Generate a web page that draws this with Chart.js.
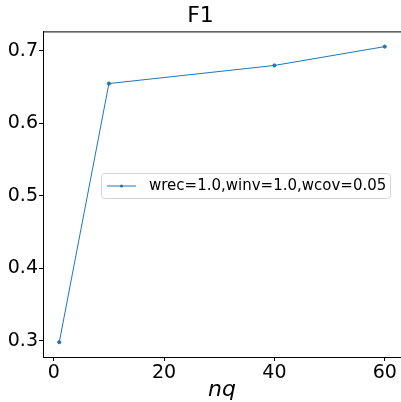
<!DOCTYPE html>
<html>
<head>
<meta charset="utf-8">
<script src="https://cdn.jsdelivr.net/npm/chart.js@4/dist/chart.umd.min.js"></script>
<style>
  html, body { margin: 0; padding: 0; background: #fff; }
  #wrap { width: 401px; height: 402px; }
</style>
</head>
<body>
<div id="wrap"><canvas id="f1Chart"></canvas></div>
<script>
// data
const nqValues = [1, 10, 40, 60];
const f1Values = [0.298, 0.655, 0.680, 0.706];
const seriesLabel = "wrec=1.0,winv=1.0,wcov=0.05";
const xTickValues = [0, 20, 40, 60];
const yTickValues = [0.3, 0.4, 0.5, 0.6, 0.7];

const FONT = "'DejaVu Sans', sans-serif";
const BLUE = "#1f77b4";

// top spine (right one falls off the canvas in the reference)
const framePlugin = {
  id: "frame",
  afterDraw(chart) {
    const { ctx, chartArea: a } = chart;
    ctx.save();
    ctx.strokeStyle = "#000";
    ctx.lineWidth = 1;
    ctx.beginPath();
    ctx.moveTo(a.left, a.top + 0.5);
    ctx.lineTo(a.right, a.top + 0.5);
    ctx.stroke();
    ctx.restore();
  },
};

// matplotlib-like legend box inside the axes
const boxLegend = {
  id: "boxLegend",
  afterDatasetsDraw(chart) {
    const { ctx } = chart;
    const x = 101, y = 173, w = 289, h = 25;
    ctx.save();
    ctx.fillStyle = "rgba(255,255,255,0.8)";
    ctx.strokeStyle = "#d5d5d5";
    ctx.lineWidth = 1;
    ctx.beginPath();
    ctx.roundRect(x + 0.5, y + 0.5, w, h, 3);
    ctx.fill();
    ctx.stroke();
    const cy = y + h / 2 + 0.5;
    ctx.strokeStyle = BLUE;
    ctx.beginPath();
    ctx.moveTo(107, cy);
    ctx.lineTo(136, cy);
    ctx.stroke();
    ctx.fillStyle = BLUE;
    ctx.beginPath();
    ctx.arc(121.5, cy, 1.6, 0, Math.PI * 2);
    ctx.fill();
    ctx.fillStyle = "#000";
    ctx.font = "15px " + FONT;
    ctx.textBaseline = "middle";
    ctx.fillText(chart.data.datasets[0].label, 149, cy);
    ctx.restore();
  },
};

const ctx = document.getElementById("f1Chart").getContext("2d");
new Chart(ctx, {
  type: "line",
  data: {
    datasets: [
      {
        label: seriesLabel,
        data: nqValues.map((v, i) => ({ x: v, y: f1Values[i] })),
        borderColor: BLUE,
        backgroundColor: BLUE,
        borderWidth: 1,
        pointRadius: 1.6,
        pointHoverRadius: 1.6,
        tension: 0,
      },
    ],
  },
  options: {
    responsive: true,
    maintainAspectRatio: false,
    animation: false,
    layout: { padding: 0, autoPadding: false },
    plugins: {
      legend: { display: false },
      tooltip: { enabled: false },
      title: {
        display: true,
        text: "F1",
        color: "#000",
        font: { family: FONT, size: 22, weight: "normal" },
        padding: { top: 3, bottom: 2 },
      },
    },
    scales: {
      x: {
        type: "linear",
        min: -1.95,
        max: 62.95,
        afterBuildTicks: (s) => { s.ticks = xTickValues.map((v) => ({ value: v })); },
        afterFit: (s) => { s.height = 45; },
        grid: { drawOnChartArea: false, drawTicks: true, tickLength: 4, color: "#000" },
        border: { display: true, color: "#000", width: 1 },
        ticks: {
          color: "#000",
          font: { family: FONT, size: 19 },
          padding: 1,
          maxRotation: 0,
        },
        title: {
          display: true,
          text: "nq",
          color: "#000",
          font: { family: FONT, size: 22, style: "italic", lineHeight: 1.05 },
          padding: { top: 0, bottom: 0 },
        },
      },
      y: {
        min: 0.2776,
        max: 0.727,
        afterBuildTicks: (s) => { s.ticks = yTickValues.map((v) => ({ value: v })); },
        afterFit: (s) => { s.width = 43; },
        grid: { drawOnChartArea: false, drawTicks: true, tickLength: 4, color: "#000" },
        border: { display: true, color: "#000", width: 1 },
        ticks: {
          color: "#000",
          font: { family: FONT, size: 19 },
          padding: 1,
          callback: (v) => v.toFixed(1),
        },
      },
    },
  },
  plugins: [framePlugin, boxLegend],
});
</script>
</body>
</html>
